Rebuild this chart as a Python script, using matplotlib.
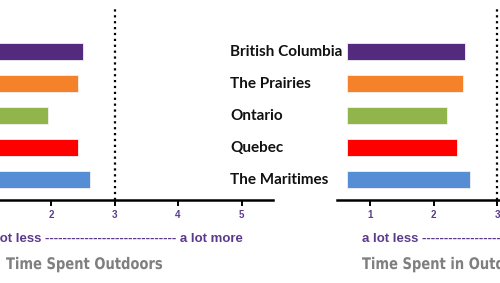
import matplotlib.pyplot as plt
import matplotlib.transforms as mtransforms
from matplotlib import patheffects

# Data
regions = ["The Maritimes", "Quebec", "Ontario", "The Prairies", "British Columbia"]
colors = ["#558ED5", "#FF0000", "#92B54B", "#F5822A", "#532A7E"]
left_values = [2.61, 2.43, 1.95, 2.43, 2.50]
right_values = [2.58, 2.37, 2.21, 2.46, 2.50]
bar_start = 0.63
left_ticks = [2, 3, 4, 5]
right_ticks = [1, 2, 3]

PURPLE = "#5B3A8C"
GREY = "#7F7F7F"


class Squeeze(patheffects.AbstractPathEffect):
    # narrows glyphs horizontally (no condensed font installed)
    def __init__(self, sx):
        super().__init__()
        self.sx = sx

    def draw_path(self, renderer, gc, tpath, affine, rgbFace=None):
        affine = mtransforms.Affine2D().scale(self.sx, 1) + affine
        renderer.draw_path(gc, tpath, affine, rgbFace)


fig = plt.figure(figsize=(5, 2.83), dpi=100)

# Axes positions extend past the figure edges (chart is a crop)
ax1 = fig.add_axes([-0.0885, 0.2933, 0.635, 0.6784])
ax2 = fig.add_axes([0.674, 0.2933, 0.6375, 0.6784])


def draw_panel(ax, values, xlim, ticks):
    ypos = range(len(values))
    ax.barh(ypos, [v - bar_start for v in values], left=bar_start,
            height=0.53, color=colors, edgecolor="#f2f2f2", linewidth=0.6)
    ax.axvline(3, color="black", linestyle=":", linewidth=1.6)
    ax.set_xlim(*xlim)
    ax.set_ylim(-0.64, 5.36)
    ax.set_xticks(ticks)
    ax.set_xticklabels([str(t) for t in ticks], color=PURPLE,
                       fontsize=7, fontfamily="Liberation Sans", fontweight="bold")
    ax.set_yticks([])
    for s in ["top", "right", "left"]:
        ax.spines[s].set_visible(False)
    ax.spines["bottom"].set_linewidth(1.8)
    ax.tick_params(axis="x", length=4, width=1.4, pad=3)
    ax.patch.set_visible(False)


draw_panel(ax1, left_values, (0.5, 5.5), left_ticks)
draw_panel(ax2, right_values, (0.48, 5.5), right_ticks)

# Region labels between the panels
trans = mtransforms.blended_transform_factory(fig.transFigure, ax2.transData)
for i, name in enumerate(regions):
    ax2.text(0.46, i, name, transform=trans, ha="left", va="center",
             fontsize=11, fontfamily="Lato", fontweight="bold", color="#111111",
             clip_on=False)

# Scale captions
dashes = "-" * 30
fig.text(243 / 500, 1 - 239 / 283, "a lot less " + dashes + " a lot more",
         ha="right", va="center", color=PURPLE, fontsize=9.5,
         fontfamily="Liberation Sans", fontweight="bold")
fig.text(362 / 500, 1 - 239 / 283, "a lot less " + dashes,
         ha="left", va="center", color=PURPLE, fontsize=9.5,
         fontfamily="Liberation Sans", fontweight="bold")

# Titles
squeeze = [Squeeze(0.82)]
fig.text(6 / 500, 1 - 269 / 283, "Time Spent Outdoors", ha="left", va="baseline",
         color=GREY, fontsize=11.5, fontfamily="DejaVu Sans", fontweight="bold",
         path_effects=squeeze)
fig.text(362 / 500, 1 - 269 / 283, "Time Spent in Outd", ha="left", va="baseline",
         color=GREY, fontsize=11.5, fontfamily="DejaVu Sans", fontweight="bold",
         path_effects=squeeze)

fig.savefig("out.png", dpi=100)
